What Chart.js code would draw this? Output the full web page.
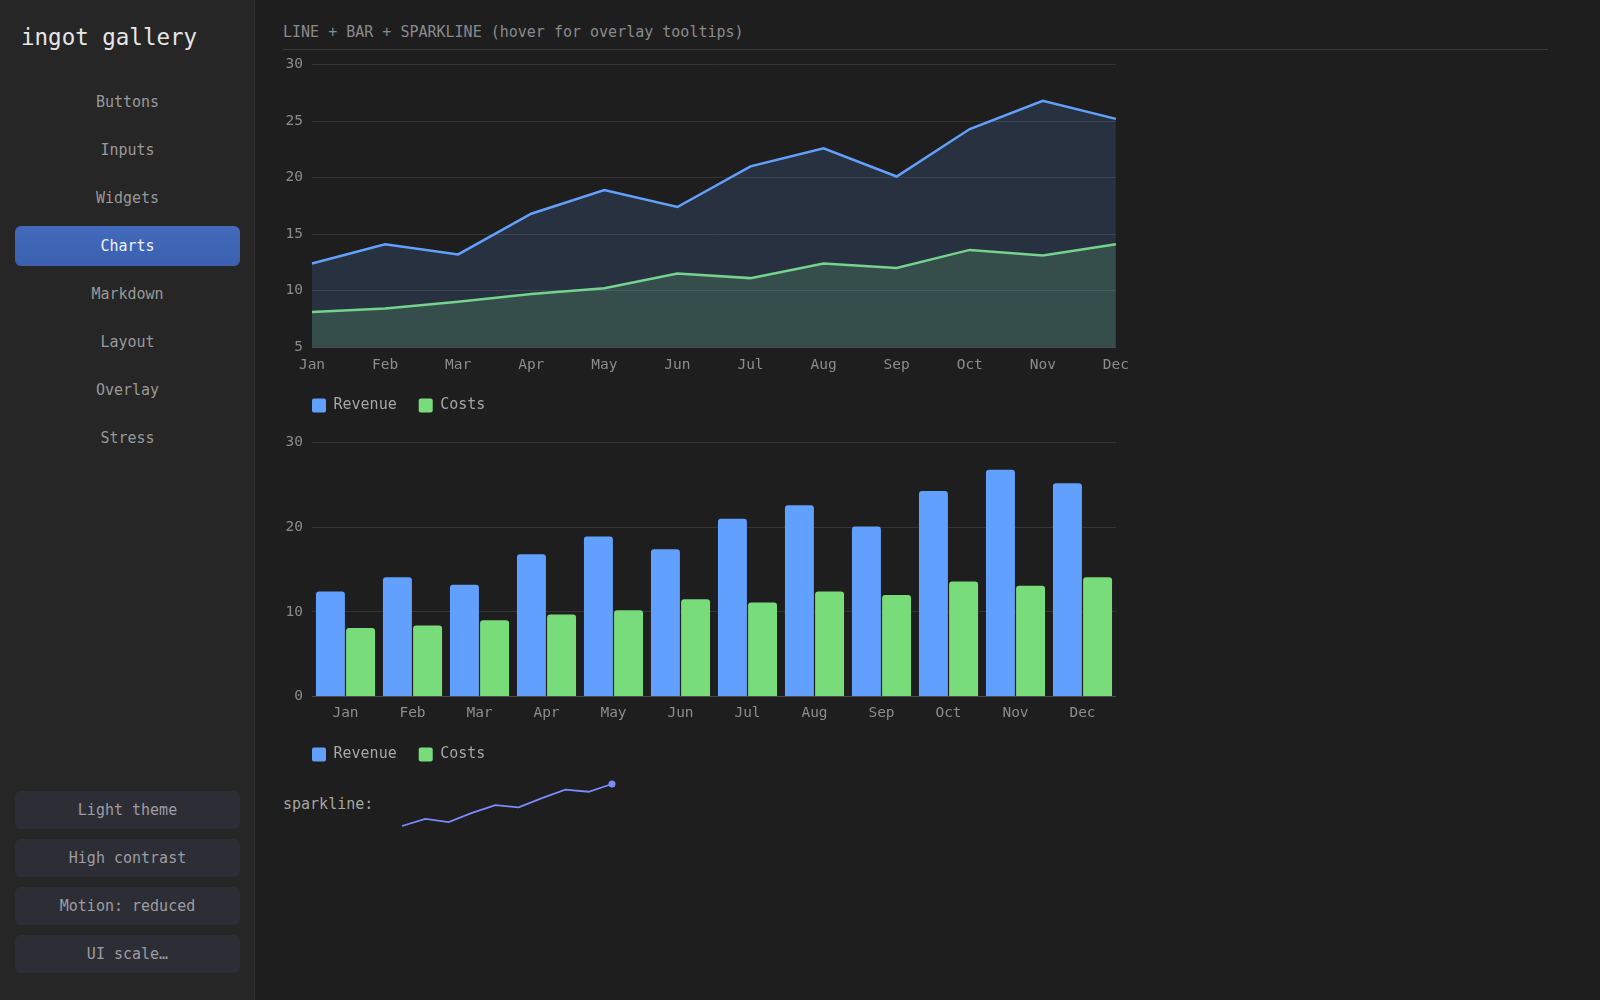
<!DOCTYPE html>
<html>
<head>
<meta charset="utf-8">
<title>ingot gallery - charts</title>
<script src="https://cdn.jsdelivr.net/npm/chart.js@4.4.1/dist/chart.umd.min.js"></script>
<style>
  html, body { margin: 0; padding: 0; }
  body {
    width: 1600px; height: 1000px; overflow: hidden;
    background: #1e1e1e;
    font-family: "DejaVu Sans Mono", "Liberation Mono", monospace;
    position: relative;
  }
  .side {
    position: absolute; left: 0; top: 0; width: 254px; height: 1000px;
    background: #262626; border-right: 1px solid #303030;
  }
  .brand {
    position: absolute; left: 21px; top: 23px;
    font-size: 22.5px; color: #e6e6e6; line-height: 28px;
  }
  .nav {
    position: absolute; left: 15px; width: 225px; height: 40px;
    line-height: 40px; text-align: center;
    font-size: 15px; color: #999999; border-radius: 6px;
  }
  .nav.active {
    background: linear-gradient(#4269bb, #3b61b0);
    color: #eef2ff;
  }
  .btn {
    position: absolute; left: 15px; width: 225px; height: 38px;
    line-height: 38px; text-align: center;
    font-size: 15px; color: #9c9ca2; border-radius: 6px;
    background: #2d2e35;
  }
  .head {
    position: absolute; left: 283px; top: 22px;
    font-size: 15px; color: #8a8a8e; line-height: 20px;
  }
  .rule {
    position: absolute; left: 283px; top: 49px; width: 1265px; height: 1px;
    background: #393939;
  }
  .box { position: absolute; }
  .sparkLabel {
    position: absolute; left: 283px; top: 794px;
    font-size: 15px; color: #a6a6a6; line-height: 20px;
  }
</style>
</head>
<body>
<div class="side">
  <div class="brand">ingot gallery</div>
  <div class="nav" style="top:82px">Buttons</div>
  <div class="nav" style="top:130px">Inputs</div>
  <div class="nav" style="top:178px">Widgets</div>
  <div class="nav active" style="top:226px">Charts</div>
  <div class="nav" style="top:274px">Markdown</div>
  <div class="nav" style="top:322px">Layout</div>
  <div class="nav" style="top:370px">Overlay</div>
  <div class="nav" style="top:418px">Stress</div>

  <div class="btn" style="top:791px">Light theme</div>
  <div class="btn" style="top:839px">High contrast</div>
  <div class="btn" style="top:887px">Motion: reduced</div>
  <div class="btn" style="top:935px">UI scale…</div>
</div>

<div class="head">LINE + BAR + SPARKLINE (hover for overlay tooltips)</div>
<div class="rule"></div>

<div class="box" style="left:283px; top:47px; width:856px; height:376px;"><canvas id="lineChart"></canvas></div>
<div class="box" style="left:283px; top:425px; width:833px; height:347px;"><canvas id="barChart"></canvas></div>

<div class="sparkLabel">sparkline:</div>
<div class="box" style="left:398px; top:780px; width:218px; height:50px;"><canvas id="sparkChart"></canvas></div>

<script>
const months = ['Jan', 'Feb', 'Mar', 'Apr', 'May', 'Jun', 'Jul', 'Aug', 'Sep', 'Oct', 'Nov', 'Dec'];
const revenue = [12.4, 14.1, 13.2, 16.8, 18.9, 17.4, 21.0, 22.6, 20.1, 24.3, 26.8, 25.2];
const costs = [8.1, 8.4, 9.0, 9.7, 10.2, 11.5, 11.1, 12.4, 12.0, 13.6, 13.1, 14.1];
const spark = [12.4, 14.4, 13.5, 16.1, 18.3, 17.7, 20.3, 22.7, 22.1, 24.3];

const blue = '#62a0ff';
const green = '#78dc7a';
const gridColor = '#353535';
const tickColor = '#8c8c8c';

Chart.defaults.font.family = "'DejaVu Sans Mono', 'Liberation Mono', monospace";
Chart.defaults.animation = false;

// legend squares use the line colour, not the area fill
function legendLabels(chart) {
    return chart.data.datasets.map((ds, i) => ({
        text: ds.label,
        fillStyle: ds.borderColor,
        strokeStyle: ds.borderColor,
        fontColor: '#a6a6a6',
        lineWidth: 0,
        borderRadius: 2,
        hidden: false,
        datasetIndex: i
    }));
}

// legend starts under the plot's left edge, not the canvas edge
const legendNudge = {
    id: 'legendNudge',
    afterLayout(chart) {
        chart.legend.left += 7;
    }
};

const legendOpts = {
    position: 'bottom',
    align: 'start',
    labels: {
        boxWidth: 14,
        boxHeight: 14,
        padding: 22,
        useBorderRadius: true,
        borderRadius: 2,
        color: '#a6a6a6',
        font: { size: 15 },
        generateLabels: legendLabels
    }
};

const lineCtx = document.getElementById('lineChart').getContext('2d');
new Chart(lineCtx, {
    type: 'line',
    data: {
        labels: months,
        datasets: [{
            label: 'Revenue',
            data: revenue,
            borderColor: blue,
            backgroundColor: 'rgba(98, 160, 255, 0.15)',
            borderWidth: 2.5,
            pointRadius: 0,
            tension: 0,
            fill: 'start'
        }, {
            label: 'Costs',
            data: costs,
            borderColor: green,
            backgroundColor: 'rgba(120, 220, 122, 0.18)',
            borderWidth: 2.5,
            pointRadius: 0,
            tension: 0,
            fill: 'start'
        }]
    },
    plugins: [legendNudge],
    options: {
        responsive: true,
        maintainAspectRatio: false,
        plugins: { legend: legendOpts, tooltip: { enabled: false } },
        scales: {
            x: {
                afterFit: s => { s.height = 29; },
                grid: { display: false, drawTicks: false },
                border: { display: true, color: '#4a4a4a' },
                ticks: { color: tickColor, font: { size: 14.5 }, padding: 10, maxRotation: 0 }
            },
            y: {
                min: 5,
                max: 30,
                afterFit: s => { s.width = 29; },
                grid: { color: gridColor, drawTicks: false },
                border: { display: false },
                ticks: { stepSize: 5, color: tickColor, font: { size: 14.5 }, padding: 9 }
            }
        }
    }
});

const barCtx = document.getElementById('barChart').getContext('2d');
new Chart(barCtx, {
    type: 'bar',
    data: {
        labels: months,
        datasets: [{
            label: 'Revenue',
            data: revenue,
            backgroundColor: blue,
            borderColor: blue,
            borderWidth: 0,
            borderRadius: 3,
            categoryPercentage: 0.9,
            barPercentage: 0.96
        }, {
            label: 'Costs',
            data: costs,
            backgroundColor: green,
            borderColor: green,
            borderWidth: 0,
            borderRadius: 3,
            categoryPercentage: 0.9,
            barPercentage: 0.96
        }]
    },
    plugins: [legendNudge],
    options: {
        responsive: true,
        maintainAspectRatio: false,
        plugins: { legend: legendOpts, tooltip: { enabled: false } },
        scales: {
            x: {
                afterFit: s => { s.height = 28.5; },
                grid: { display: false, drawTicks: false },
                border: { display: true, color: '#4a4a4a' },
                ticks: { color: tickColor, font: { size: 14.5 }, padding: 8 }
            },
            y: {
                min: 0,
                max: 30,
                afterFit: s => { s.width = 29; },
                grid: { color: gridColor, drawTicks: false },
                border: { display: false },
                ticks: { stepSize: 10, color: tickColor, font: { size: 14.5 }, padding: 9 }
            }
        }
    }
});

const sparkCtx = document.getElementById('sparkChart').getContext('2d');
new Chart(sparkCtx, {
    type: 'line',
    data: {
        labels: spark.map((v, i) => i),
        datasets: [{
            data: spark,
            borderColor: '#7b8bff',
            backgroundColor: '#7b8bff',
            borderWidth: 1.8,
            tension: 0,
            clip: false,
            pointRadius: spark.map((v, i) => i === spark.length - 1 ? 3.5 : 0),
            pointBorderWidth: 0
        }]
    },
    options: {
        responsive: true,
        maintainAspectRatio: false,
        layout: { padding: 4 },
        plugins: { legend: { display: false }, tooltip: { enabled: false } },
        scales: {
            x: { display: false },
            y: { display: false, min: Math.min(...spark), max: Math.max(...spark) }
        }
    }
});
</script>
</body>
</html>
